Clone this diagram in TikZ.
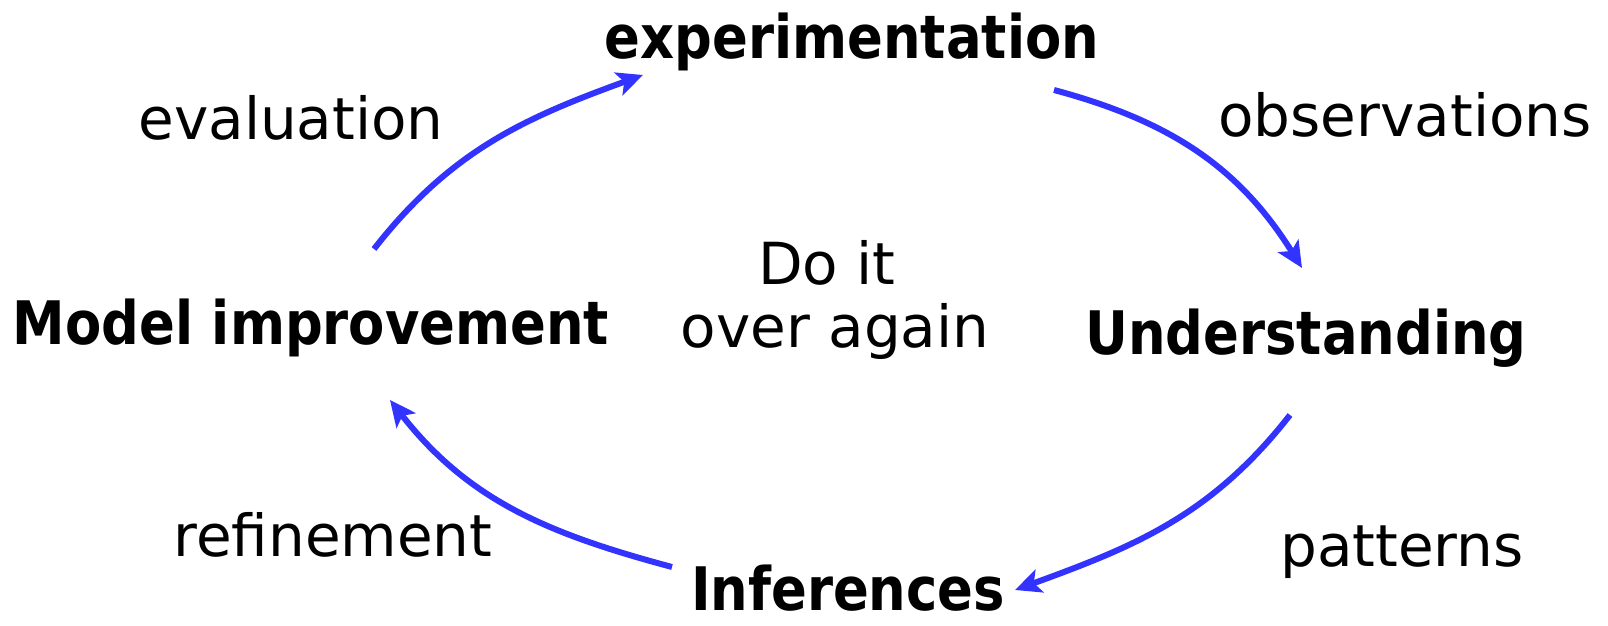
\documentclass[tikz,border=0pt]{standalone}
\usepackage{fontspec}
\setmainfont{DejaVu Sans}[BoldFeatures={FakeStretch=0.88}]
\usetikzlibrary{arrows.meta}
\definecolor{cyclecol}{RGB}{51,51,255}
\begin{document}
\begin{tikzpicture}[x=0.5pt,y=0.5pt,
  stage/.style={font=\fontsize{30}{36}\selectfont\bfseries, anchor=base, inner sep=0pt},
  lbl/.style={font=\fontsize{29}{35}\selectfont, anchor=base, inner sep=0pt},
  cycle/.style={draw=cyclecol, line width=3pt, -{Stealth[length=13pt,width=12pt,inset=3pt]}}]
\useasboundingbox (0,0) rectangle (1608,626);
% stages of the cycle
\node[stage] (exp)   at (852,567) {experimentation};
\node[stage] (model) at (311,281) {Model improvement};
\node[stage] (und)   at (1306,271) {Understanding};
\node[stage] (inf)   at (848,15) {Inferences};
% transition labels
\node[lbl] (eval) at (291,486) {evaluation};
\node[lbl] (obs)  at (1405,489) {observations};
\node[lbl] (ref)  at (333,69) {refinement};
\node[lbl] (pat)  at (1402,59) {patterns};
% centre text
\node[lbl] (doit)  at (827,341) {Do it};
\node[lbl] (again) at (835,278) {over again};
% arc end points
\coordinate (a1s) at (374,377);  \coordinate (a1e) at (643,551);
\coordinate (a2s) at (1054,536); \coordinate (a2e) at (1302,358);
\coordinate (a3s) at (1290,211); \coordinate (a3e) at (1015,36);
\coordinate (a4s) at (672,59);   \coordinate (a4e) at (390,226);
% the cycle
\draw[cycle] (a1s) to[out=52,in=200] (a1e);
\draw[cycle] (a2s) to[out=-15,in=122] (a2e);
\draw[cycle] (a3s) to[out=-128,in=20] (a3e);
\draw[cycle] (a4s) to[out=165,in=-52] (a4e);
\end{tikzpicture}
\end{document}
